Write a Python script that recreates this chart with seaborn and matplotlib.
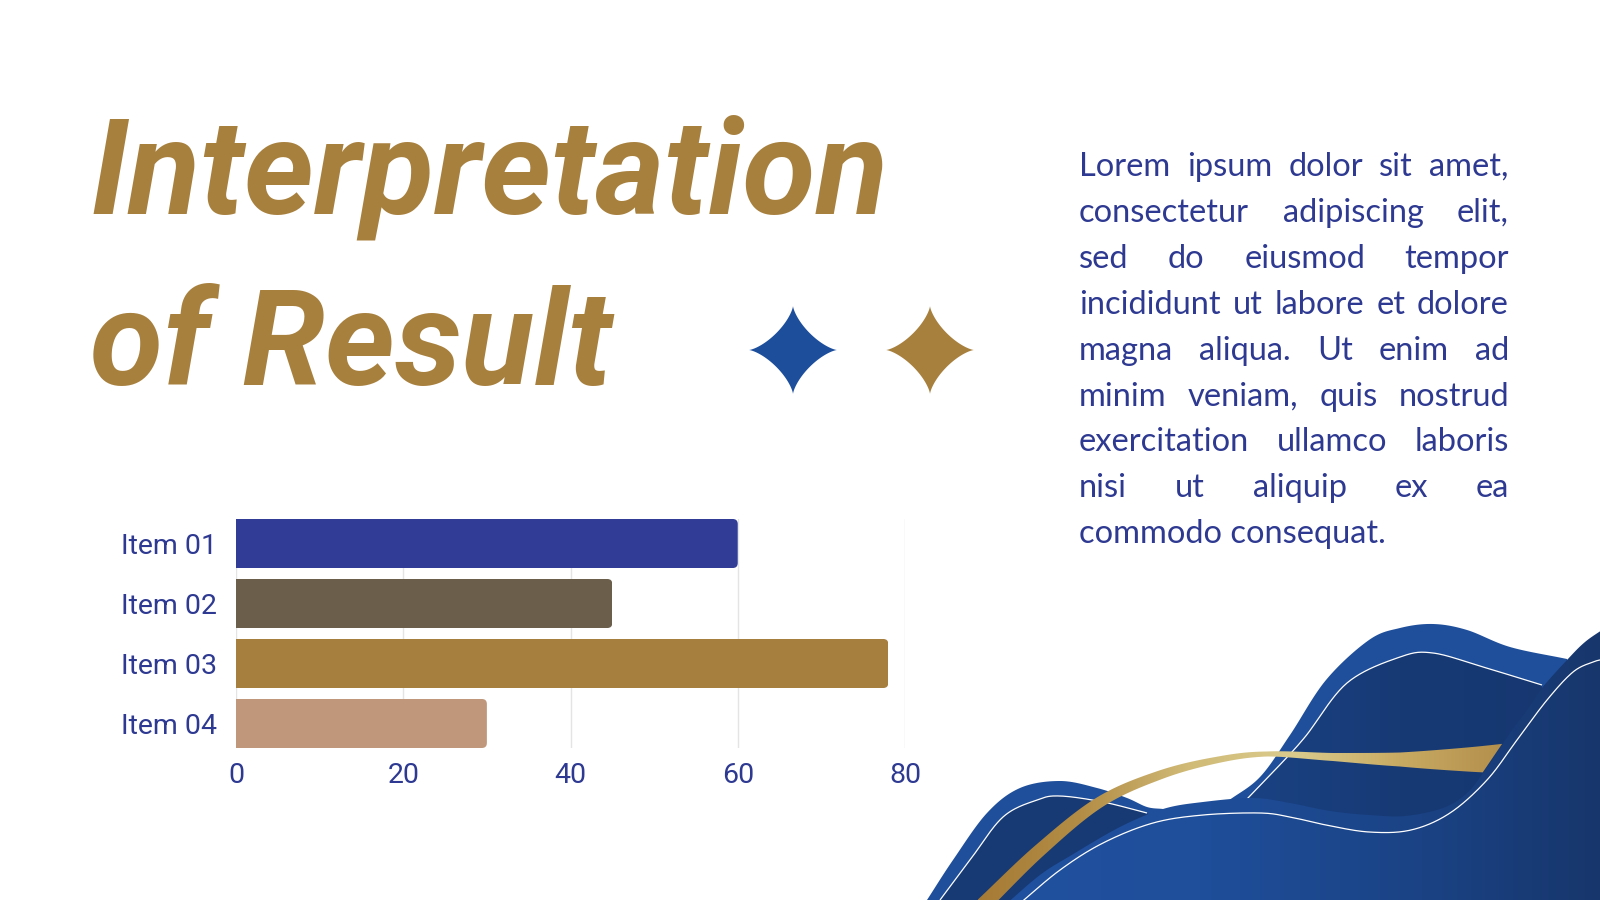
import numpy as np
import matplotlib
matplotlib.use("Agg")
import matplotlib.pyplot as plt
import seaborn as sns
from matplotlib.patches import Polygon, FancyBboxPatch
from matplotlib.colors import LinearSegmentedColormap

# ---------------- data ----------------
items = ["Item 01", "Item 02", "Item 03", "Item 04"]
values = [60, 45, 78, 30]
bar_colors = ["#303C96", "#6B5F4C", "#A67F3E", "#C0977B"]
x_ticks = [0, 20, 40, 60, 80]
title_lines = ["Interpretation", "of Result"]
body_lines = [
    "Lorem ipsum dolor sit amet,",
    "consectetur adipiscing elit,",
    "sed do eiusmod tempor",
    "incididunt ut labore et dolore",
    "magna aliqua. Ut enim ad",
    "minim veniam, quis nostrud",
    "exercitation ullamco laboris",
    "nisi ut aliquip ex ea",
    "commodo consequat.",
]

GOLD = "#A8803E"
NAVY = "#2E3A91"
MED_BLUE = "#1F4F9B"
DARK_BLUE = "#173A75"

sns.set_theme(style="white")
plt.rcParams["font.family"] = ["Roboto", "DejaVu Sans"]

W, H = 1600, 900
fig = plt.figure(figsize=(16, 9), dpi=100)
fig.patch.set_facecolor("white")

# background / decoration axes in pixel coordinates (y down)
bg = fig.add_axes([0, 0, 1, 1], zorder=0)
bg.set_xlim(0, W)
bg.set_ylim(H, 0)
bg.axis("off")


def smooth(pts, n=24):
    p = np.asarray(pts, float)
    p = np.vstack([p[0] * 2 - p[1], p, p[-1] * 2 - p[-2]])
    out = []
    for i in range(1, len(p) - 2):
        p0, p1, p2, p3 = p[i - 1], p[i], p[i + 1], p[i + 2]
        t = np.linspace(0, 1, n, endpoint=False)[:, None]
        seg = 0.5 * ((2 * p1) + (-p0 + p2) * t + (2 * p0 - 5 * p1 + 4 * p2 - p3) * t ** 2
                     + (-p0 + 3 * p1 - 3 * p2 + p3) * t ** 3)
        out.append(seg)
    out.append(p[-2][None, :])
    return np.vstack(out)


def fill(curve, closing, color, z):
    poly = np.vstack([smooth(curve), np.asarray(closing, float)])
    patch = Polygon(poly, closed=True, facecolor=color, edgecolor="none", zorder=z)
    bg.add_patch(patch)
    return patch


def grad_fill(curve, closing, colors, x0, x1, z):
    poly = np.vstack([smooth(curve), np.asarray(closing, float)])
    patch = Polygon(poly, closed=True, facecolor="none", edgecolor="none", zorder=z)
    bg.add_patch(patch)
    cmap = LinearSegmentedColormap.from_list("g", colors)
    grad = np.linspace(0, 1, 256)[None, :]
    im = bg.imshow(grad, extent=[x0, x1, H, 550], cmap=cmap, aspect="auto",
                   zorder=z, interpolation="bicubic")
    im.set_clip_path(patch)
    return patch


def wline(curve, z):
    c = smooth(curve)
    bg.plot(c[:, 0], c[:, 1], color="white", lw=0.9, zorder=z, solid_capstyle="butt")


# ---- left hump ----
lh_outer = [(927, 900), (953, 860), (987, 813), (1020, 788), (1060, 781), (1097, 788),
            (1127, 798), (1147, 807), (1163, 809)]
fill(lh_outer, [(1180, 845), (1150, 900)], MED_BLUE, 1)
lh_line = [(940, 900), (970, 860), (1003, 817), (1037, 800), (1060, 796), (1103, 802),
           (1147, 813)]
fill(lh_line, [(1165, 845), (1100, 900)], DARK_BLUE, 1.1)
wline(lh_line, 1.2)

# ---- big hump ----
bh_outer = [(1228, 801), (1260, 777), (1290, 735), (1326, 680), (1369, 640), (1400, 628),
            (1433, 624), (1467, 630), (1510, 647), (1567, 659)]
fill(bh_outer, [(1580, 690), (1580, 880), (1225, 880)], MED_BLUE, 2)
bh_line = [(1247, 799), (1275, 770), (1305, 737), (1347, 683), (1400, 657), (1433, 653),
           (1483, 667), (1542, 685)]
grad_fill(bh_line, [(1542, 880), (1240, 880)], ["#1A4283", "#173A75", "#163770"],
          1240, 1560, 2.1)
wline(bh_line, 2.2)

# ---- front shape ----
fr_outer = [(1005, 905), (1040, 875), (1070, 856), (1120, 827), (1163, 809), (1203, 802),
            (1253, 798), (1290, 803), (1330, 811), (1369, 815), (1405, 816), (1443, 808),
            (1467, 793), (1483, 773), (1510, 733), (1527, 710), (1542, 688), (1567, 660),
            (1585, 642), (1605, 628)]
grad_fill(fr_outer, [(1605, 905)], ["#2051A0", "#1F4E9A", "#1B4487", "#17366C"],
          1000, 1600, 3)
fr_line = [(1018, 905), (1060, 870), (1103, 843), (1153, 823), (1203, 815), (1260, 813),
           (1290, 817), (1326, 825), (1369, 832), (1411, 830), (1450, 813), (1487, 780),
           (1517, 740), (1547, 700), (1573, 672), (1593, 662), (1605, 659)]
wline(fr_line, 3.2)

# ---- gold ribbon ----
rib_c = np.array([(983, 905), (1040, 850), (1100, 802), (1160, 775), (1217, 760),
                  (1267, 754), (1333, 757), (1400, 759.5), (1467, 759.5), (1520, 758)],
                 float)
rib_t = np.array([15, 13, 11, 9, 6.5, 5, 8, 14, 24, 32], float)
c = smooth(rib_c, 30)
seg = np.r_[0, np.cumsum(np.linalg.norm(np.diff(c, axis=0), axis=1))]
kseg = np.r_[0, np.cumsum(np.linalg.norm(np.diff(rib_c, axis=0), axis=1))]
tt = np.interp(seg / seg[-1], kseg / kseg[-1], rib_t)
d = np.gradient(c, axis=0)
d /= np.linalg.norm(d, axis=1)[:, None]
nrm = np.column_stack([-d[:, 1], d[:, 0]])
top = c + nrm * tt[:, None] / 2
bot = c - nrm * tt[:, None] / 2
rib_poly = np.vstack([top, bot[::-1]])


# slanted end cut through (1502,744)-(1483,772)
def xcut(y):
    return 1502 - (y - 744) * (1502 - 1483) / (772 - 744)


rib_poly[:, 0] = np.minimum(rib_poly[:, 0], xcut(rib_poly[:, 1]))
rp = Polygon(rib_poly, closed=True, facecolor="none", edgecolor="none", zorder=4)
bg.add_patch(rp)
rcmap = LinearSegmentedColormap.from_list(
    "rib", ["#A57A35", "#B38D46", "#D0BA76", "#DACB8D", "#C8AB63", "#B38F4C"])
rim = bg.imshow(np.linspace(0, 1, 256)[None, :], extent=[975, 1505, H, 700],
                cmap=rcmap, aspect="auto", zorder=4, interpolation="bicubic")
rim.set_clip_path(rp)


# ---- stars ----
def star(cx, cy, r, color):
    th = np.linspace(0, 2 * np.pi, 721)
    n = 0.72
    x = np.sign(np.cos(th)) * np.abs(np.cos(th)) ** (2 / n)
    y = np.sign(np.sin(th)) * np.abs(np.sin(th)) ** (2 / n)
    bg.add_patch(Polygon(np.column_stack([cx + r * x, cy + r * y]), closed=True,
                         facecolor=color, edgecolor="none", zorder=5))


star(793, 350, 44, "#1C4E9C")
star(930, 350, 44, GOLD)

bg.set_xlim(0, W)
bg.set_ylim(H, 0)

# ---- title ----
for txt, yb in zip(title_lines, [213, 385]):
    bg.text(90, yb, txt, color=GOLD, fontsize=96, fontweight="bold",
            fontstyle="italic", family=["Roboto", "DejaVu Sans"], va="baseline", ha="left")

# ---- justified body text ----
renderer = fig.canvas.get_renderer()
body_font = ["Lato", "DejaVu Sans"]
fs = 23.5
x_left, x_right = 1079, 1509
y0, pitch = 176, 45.9


def tw(s):
    t = bg.text(0, 0, s, fontsize=fs, family=body_font)
    w = t.get_window_extent(renderer).width
    t.remove()
    return w


for i, line in enumerate(body_lines):
    y = y0 + i * pitch
    words = line.split()
    if i == len(body_lines) - 1 or len(words) == 1:
        bg.text(x_left, y, line, fontsize=fs, family=body_font, color=NAVY,
                va="baseline", ha="left")
        continue
    widths = [tw(wd) for wd in words]
    gap = (x_right - x_left - sum(widths)) / (len(words) - 1)
    x = x_left
    for wd, wdt in zip(words, widths):
        bg.text(x, y, wd, fontsize=fs, family=body_font, color=NAVY,
                va="baseline", ha="left")
        x += wdt + gap

# ---------------- bar chart ----------------
ax_l, ax_r, ax_t, ax_b = 236, 905, 519, 748
ax = fig.add_axes([ax_l / W, 1 - ax_b / H, (ax_r - ax_l) / W, (ax_b - ax_t) / H], zorder=2)
ax.patch.set_alpha(0)
bw = 0.817
sns.barplot(x=values, y=items, hue=items, palette=bar_colors, orient="h", width=bw,
            legend=False, ax=ax, saturation=1, edgecolor="none")
ax.set_xlim(0, 80)
ax.set_ylim(3 + bw / 2, -bw / 2)
ax.set_xticks(x_ticks)
ax.set_xticklabels([str(v) for v in x_ticks])
ax.grid(axis="x", color="#E4E4E4", lw=1)
ax.grid(axis="y", visible=False)
ax.set_axisbelow(True)
for s in ax.spines.values():
    s.set_visible(False)
ax.tick_params(axis="both", length=0, labelcolor=NAVY, labelsize=20.5)
ax.tick_params(axis="y", pad=13.5)
ax.tick_params(axis="x", pad=10)
for lab in ax.get_xticklabels() + ax.get_yticklabels():
    lab.set_family(["Roboto", "DejaVu Sans"])
ax.set_xlabel("")
ax.set_ylabel("")

# rounded right ends
px_x = (ax_r - ax_l) / 80
px_y = (ax_b - ax_t) / (3 + bw)
r_px = 5
rx = r_px / px_x
m_asp = (r_px / px_y) / rx
for p in ax.patches:
    x0, y0b, w, h = p.get_x(), p.get_y(), p.get_width(), p.get_height()
    clip = FancyBboxPatch((x0 - 10, y0b), w + 10, h,
                          boxstyle=f"round,pad=0,rounding_size={rx}",
                          mutation_aspect=m_asp, transform=ax.transData)
    p.set_clip_path(clip)

fig.savefig("out.png", dpi=100, facecolor="white")
